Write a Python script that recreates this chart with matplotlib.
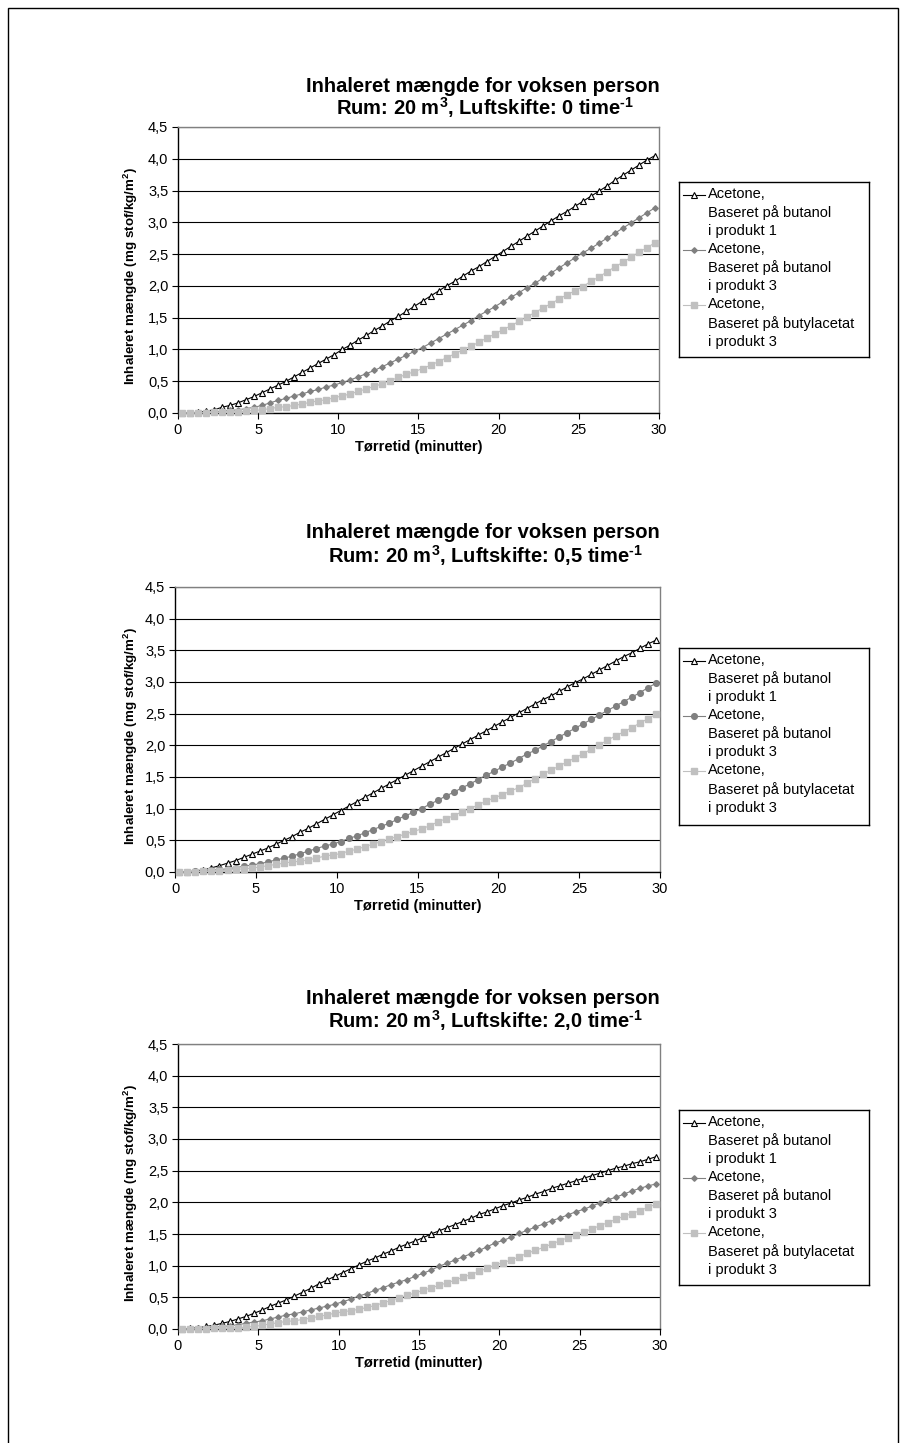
import numpy as np
import matplotlib
matplotlib.use("Agg")
import matplotlib.pyplot as plt
from matplotlib.patches import Rectangle
from matplotlib.lines import Line2D
from matplotlib.ticker import FuncFormatter, MultipleLocator

plt.rcParams['font.family'] = ['Liberation Sans', 'DejaVu Sans']
plt.rcParams['mathtext.fontset'] = 'custom'
plt.rcParams['mathtext.rm'] = 'Liberation Sans'
plt.rcParams['mathtext.bf'] = 'Liberation Sans:bold'
plt.rcParams['mathtext.default'] = 'bf'

# drying time (minutes), one point every half minute
t = np.arange(0.25, 30, 0.5)

# panel 1: air change 0 /h
butanol_p1_a = [0.0, 0.005, 0.01, 0.03, 0.05, 0.09, 0.12, 0.16, 0.21, 0.26,
                0.32, 0.38, 0.44, 0.50, 0.57, 0.64, 0.71, 0.78, 0.85, 0.92,
                1.00, 1.07, 1.15, 1.22, 1.30, 1.37, 1.45, 1.52, 1.60, 1.68,
                1.76, 1.84, 1.92, 2.00, 2.07, 2.15, 2.23, 2.30, 2.38, 2.46,
                2.54, 2.62, 2.70, 2.78, 2.86, 2.94, 3.02, 3.10, 3.17, 3.25,
                3.33, 3.41, 3.49, 3.57, 3.66, 3.74, 3.82, 3.90, 3.98, 4.05]
butanol_p3_a = [0.0, 0.0, 0.005, 0.01, 0.02, 0.03, 0.04, 0.05, 0.07, 0.09,
                0.12, 0.16, 0.20, 0.23, 0.27, 0.30, 0.34, 0.37, 0.41, 0.44,
                0.48, 0.52, 0.57, 0.62, 0.67, 0.73, 0.79, 0.85, 0.91, 0.97,
                1.03, 1.10, 1.17, 1.24, 1.31, 1.38, 1.45, 1.53, 1.60, 1.67,
                1.75, 1.82, 1.89, 1.97, 2.04, 2.12, 2.20, 2.28, 2.36, 2.44,
                2.52, 2.59, 2.67, 2.75, 2.83, 2.91, 2.99, 3.07, 3.15, 3.23]
butyl_p3_a = [0.0, 0.0, 0.0, 0.005, 0.01, 0.01, 0.02, 0.02, 0.03, 0.04,
              0.05, 0.07, 0.09, 0.10, 0.12, 0.14, 0.17, 0.19, 0.21, 0.24,
              0.27, 0.30, 0.34, 0.38, 0.42, 0.46, 0.51, 0.56, 0.61, 0.65,
              0.70, 0.75, 0.81, 0.87, 0.93, 0.99, 1.05, 1.11, 1.18, 1.24,
              1.31, 1.37, 1.44, 1.51, 1.58, 1.65, 1.72, 1.79, 1.86, 1.92,
              1.99, 2.07, 2.14, 2.22, 2.30, 2.37, 2.45, 2.53, 2.60, 2.68]

# panel 2: air change 0,5 /h
butanol_p1_b = [0.0, 0.005, 0.015, 0.035, 0.065, 0.10, 0.14, 0.18, 0.23, 0.28,
                0.33, 0.38, 0.44, 0.50, 0.56, 0.63, 0.69, 0.76, 0.83, 0.90,
                0.97, 1.04, 1.11, 1.18, 1.25, 1.32, 1.39, 1.46, 1.53, 1.60,
                1.67, 1.74, 1.81, 1.88, 1.95, 2.02, 2.09, 2.16, 2.23, 2.30,
                2.37, 2.44, 2.51, 2.58, 2.65, 2.72, 2.78, 2.85, 2.92, 2.99,
                3.05, 3.12, 3.19, 3.26, 3.33, 3.40, 3.46, 3.53, 3.60, 3.66]
butanol_p3_b = [0.0, 0.0, 0.01, 0.02, 0.03, 0.04, 0.05, 0.07, 0.09, 0.11,
                0.13, 0.16, 0.19, 0.22, 0.25, 0.29, 0.33, 0.37, 0.41, 0.44,
                0.48, 0.53, 0.57, 0.62, 0.67, 0.72, 0.77, 0.83, 0.89, 0.94,
                1.00, 1.07, 1.13, 1.20, 1.26, 1.33, 1.39, 1.46, 1.53, 1.59,
                1.66, 1.72, 1.79, 1.86, 1.92, 1.99, 2.06, 2.13, 2.20, 2.27,
                2.34, 2.41, 2.48, 2.55, 2.62, 2.69, 2.76, 2.83, 2.91, 2.98]
butyl_p3_b = [0.0, 0.0, 0.005, 0.01, 0.015, 0.02, 0.03, 0.04, 0.05, 0.06,
              0.08, 0.10, 0.12, 0.14, 0.16, 0.17, 0.19, 0.22, 0.25, 0.27,
              0.29, 0.33, 0.36, 0.40, 0.44, 0.48, 0.52, 0.56, 0.60, 0.64,
              0.68, 0.73, 0.79, 0.84, 0.89, 0.95, 1.00, 1.06, 1.12, 1.17,
              1.22, 1.28, 1.33, 1.40, 1.47, 1.54, 1.61, 1.67, 1.74, 1.80,
              1.87, 1.94, 2.01, 2.08, 2.15, 2.21, 2.28, 2.35, 2.42, 2.49]

# panel 3: air change 2,0 /h
butanol_p1_c = [0.0, 0.01, 0.02, 0.04, 0.06, 0.09, 0.12, 0.16, 0.20, 0.25,
                0.30, 0.36, 0.41, 0.46, 0.52, 0.58, 0.64, 0.71, 0.77, 0.83,
                0.89, 0.95, 1.01, 1.07, 1.12, 1.18, 1.23, 1.29, 1.34, 1.39,
                1.44, 1.50, 1.55, 1.60, 1.65, 1.70, 1.75, 1.81, 1.85, 1.90,
                1.95, 1.99, 2.04, 2.08, 2.13, 2.17, 2.22, 2.26, 2.30, 2.34,
                2.38, 2.42, 2.46, 2.50, 2.54, 2.57, 2.61, 2.64, 2.68, 2.72]
butanol_p3_c = [0.0, 0.0, 0.01, 0.02, 0.03, 0.04, 0.05, 0.07, 0.09, 0.11,
                0.13, 0.16, 0.19, 0.22, 0.24, 0.27, 0.30, 0.33, 0.36, 0.39,
                0.43, 0.47, 0.52, 0.56, 0.61, 0.65, 0.70, 0.74, 0.78, 0.83,
                0.88, 0.93, 0.99, 1.04, 1.09, 1.14, 1.19, 1.24, 1.30, 1.36,
                1.40, 1.45, 1.51, 1.56, 1.61, 1.66, 1.71, 1.75, 1.80, 1.85,
                1.89, 1.94, 1.99, 2.04, 2.08, 2.13, 2.18, 2.22, 2.26, 2.29]
butyl_p3_c = [0.0, 0.0, 0.0, 0.005, 0.01, 0.01, 0.02, 0.02, 0.03, 0.04,
              0.06, 0.08, 0.10, 0.12, 0.13, 0.15, 0.17, 0.20, 0.22, 0.25,
              0.27, 0.29, 0.31, 0.34, 0.37, 0.41, 0.45, 0.49, 0.53, 0.57,
              0.61, 0.65, 0.69, 0.73, 0.77, 0.82, 0.86, 0.91, 0.96, 1.01,
              1.05, 1.09, 1.14, 1.20, 1.24, 1.29, 1.34, 1.39, 1.44, 1.49,
              1.53, 1.58, 1.63, 1.68, 1.73, 1.78, 1.82, 1.87, 1.92, 1.97]

air_change = ['0', '0,5', '2,0']
legend_labels = ['Acetone,\nBaseret på butanol\ni produkt 1',
                 'Acetone,\nBaseret på butanol\ni produkt 3',
                 'Acetone,\nBaseret på butylacetat\ni produkt 3']

W, H = 908, 1443
fig = plt.figure(figsize=(W / 100, H / 100), dpi=100)
fig.patch.set_facecolor('white')


def fx(px):
    return px / W


def fy(py):
    return 1 - py / H


# page frame
fig.add_artist(Rectangle((fx(8), -0.05), (898 - 8) / W, 1.05 - 8 / H,
                         transform=fig.transFigure, fill=False,
                         ec='black', lw=1.0))

panels = [
    dict(data=[butanol_p1_a, butanol_p3_a, butyl_p3_a], mid='D',
         ax=(178, 127, 659, 413), title_y=(86, 108), leg=(679, 182, 869, 357)),
    dict(data=[butanol_p1_b, butanol_p3_b, butyl_p3_b], mid='o',
         ax=(175, 587, 660, 872), title_y=(533, 556), leg=(679, 648, 869, 825)),
    dict(data=[butanol_p1_c, butanol_p3_c, butyl_p3_c], mid='D',
         ax=(178, 1044, 660, 1329), title_y=(998, 1021), leg=(679, 1110, 869, 1285)),
]

dark = '#808080'
light = '#c0c0c0'

for k, p in enumerate(panels):
    l, tp, r, b = p['ax']
    ax = fig.add_axes([fx(l), fy(b), (r - l) / W, (b - tp) / H])
    mid = p['mid']
    ms_mid = 2.8 if mid == 'D' else 4.1
    styles = [
        dict(color='black', marker='^', mfc='white', mec='black', ms=5.0, lw=0.8, mew=0.8),
        dict(color=dark, marker=mid, mfc=dark, mec=dark, ms=ms_mid, lw=0.8),
        dict(color=light, marker='s', mfc=light, mec=light, ms=4.4, lw=0.8),
    ]
    for vals, st in zip(p['data'], styles):
        ax.plot(t, vals, clip_on=False, zorder=3, **st)

    ax.set_xlim(0, 30)
    ax.set_ylim(0, 4.5)
    ax.xaxis.set_major_locator(MultipleLocator(5))
    ax.yaxis.set_major_locator(MultipleLocator(0.5))
    ax.yaxis.set_major_formatter(FuncFormatter(lambda v, pos: f"{v:.1f}".replace('.', ',')))
    ax.yaxis.grid(True, color='black', lw=0.8)
    ax.set_axisbelow(True)
    for s in ['left', 'bottom']:
        ax.spines[s].set_color('black')
        ax.spines[s].set_linewidth(1.0)
    for s in ['top', 'right']:
        ax.spines[s].set_color(dark)
        ax.spines[s].set_linewidth(1.0)
    ax.tick_params(direction='out', length=4, width=0.8, labelsize=10.5, pad=3)

    cx = (l + r) / 2
    fig.text(fx(483), fy(p['title_y'][0]), 'Inhaleret mængde for voksen person',
             ha='center', va='center', fontsize=14.5, fontweight='bold')
    fig.text(fx(485), fy(p['title_y'][1]),
             r'Rum: 20 m$^{3}$, Luftskifte: ' + air_change[k] + ' time$^{\u2010 1}$',
             ha='center', va='center', fontsize=14.5, fontweight='bold')
    fig.text(fx(cx), fy(b + 34), 'Tørretid (minutter)', ha='center', va='center',
             fontsize=10.5, fontweight='bold')
    fig.text(fx(131), fy((tp + b) / 2 + 6), r'Inhaleret mængde (mg stof/kg/m$^{2}$)',
             ha='center', va='center', rotation=90, fontsize=9.6, fontweight='bold')

    # legend box
    ll, lt, lr, lb = p['leg']
    lax = fig.add_axes([fx(ll), fy(lb), (lr - ll) / W, (lb - lt) / H])
    lax.set_xlim(ll, lr)
    lax.set_ylim(lb, lt)
    lax.set_xticks([])
    lax.set_yticks([])
    for s in lax.spines.values():
        s.set_color('black')
        s.set_linewidth(1.0)
    for i, (lab, st) in enumerate(zip(legend_labels, styles)):
        y0 = lt + 13 + i * 3 * 18.4
        lax.add_line(Line2D([ll + 4, ll + 26], [y0, y0], color=st['color'], lw=0.8))
        lax.plot([ll + 15], [y0], linestyle='none', marker=st['marker'],
                 mfc=st['mfc'], mec=st['mec'], ms=st['ms'], mew=st.get('mew', 1.0))
        lax.text(ll + 29, y0 - 8, lab, ha='left', va='top', fontsize=10.5,
                 linespacing=1.36)

fig.savefig('out.png', dpi=100, facecolor='white')
